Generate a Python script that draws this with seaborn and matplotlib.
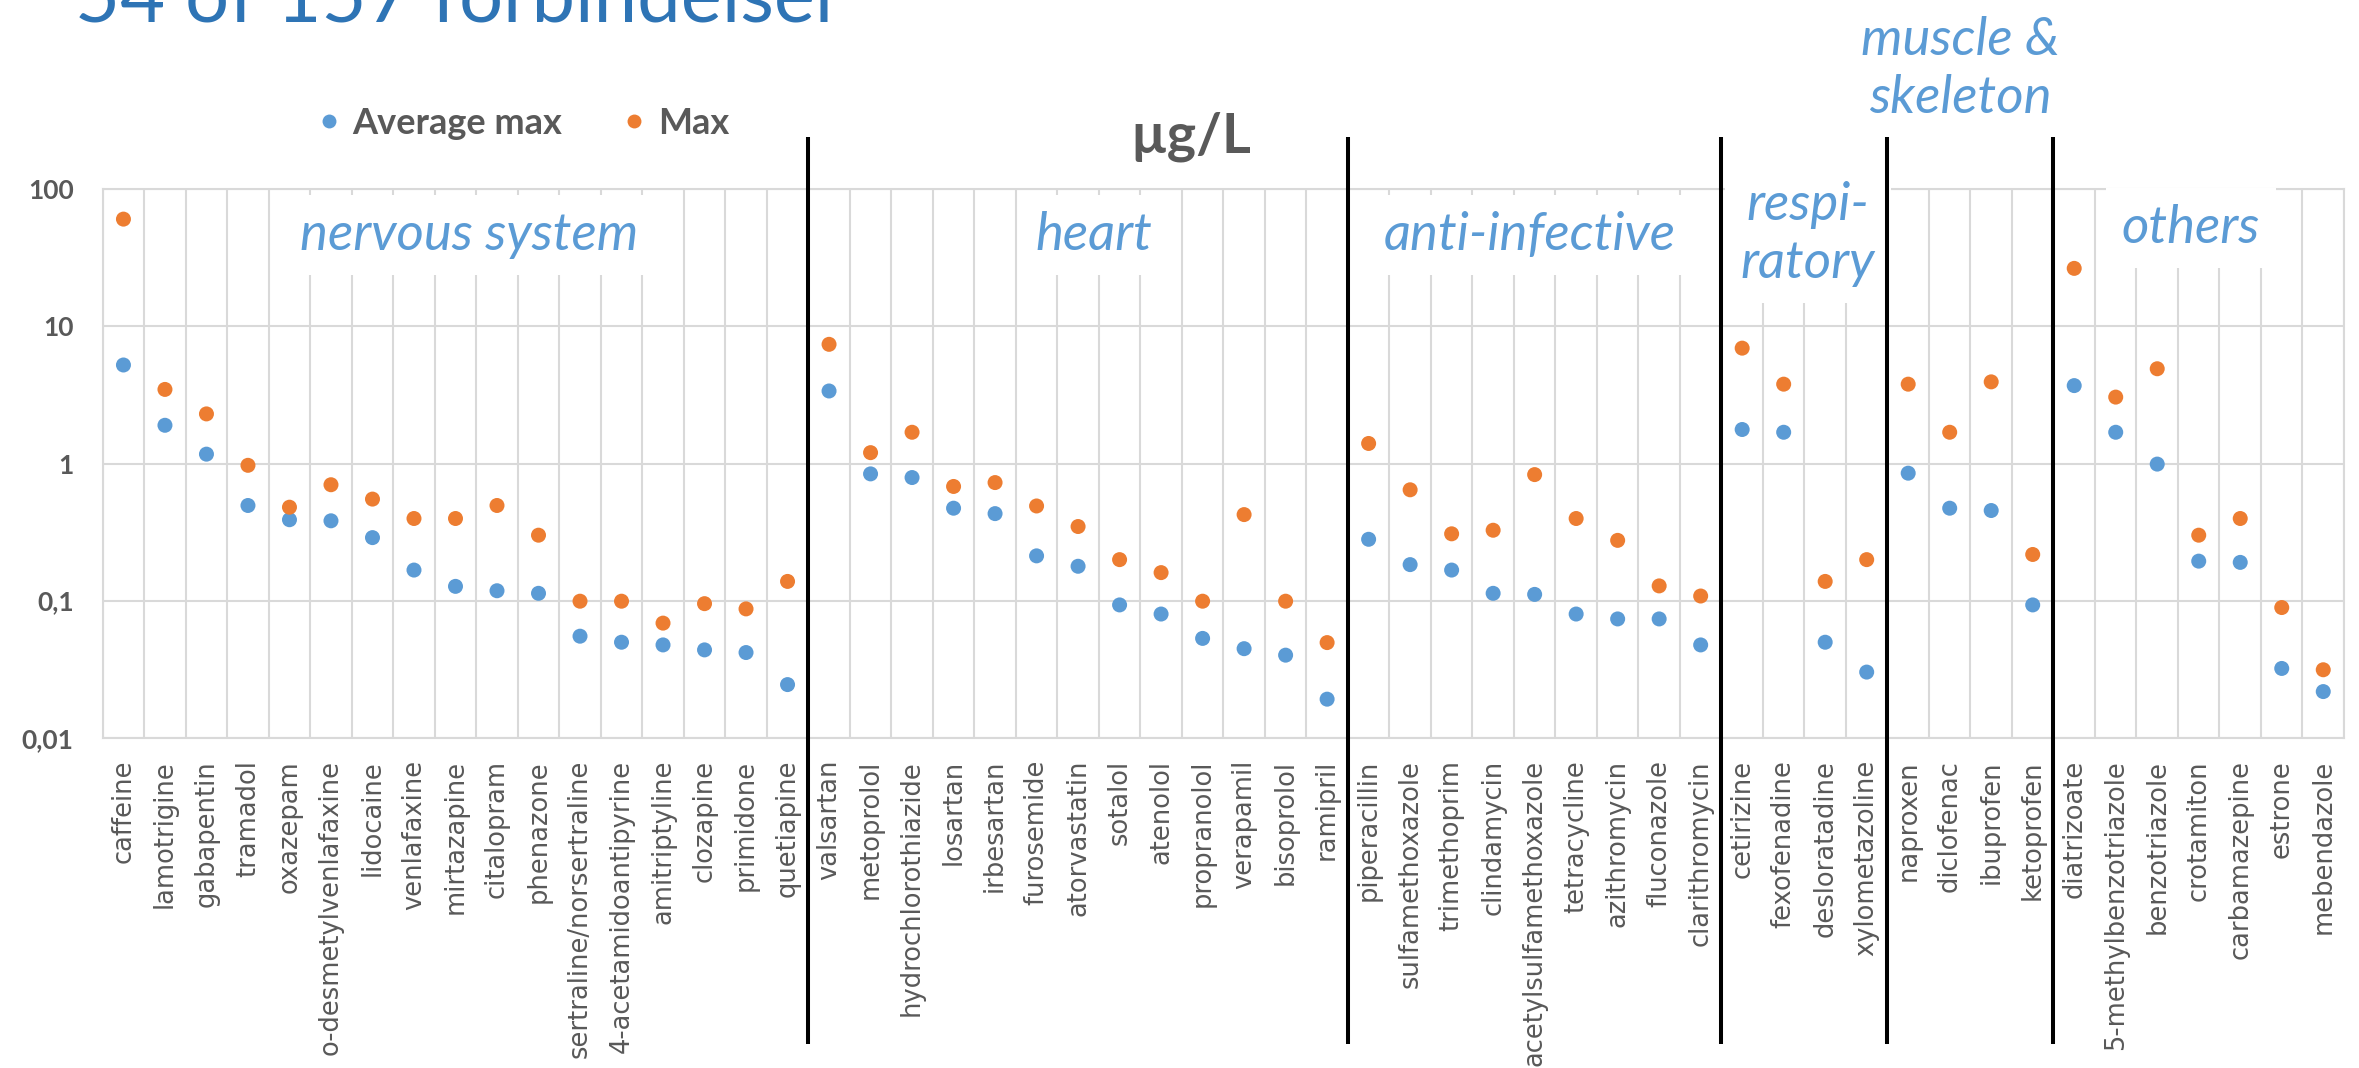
import numpy as np
import pandas as pd
import matplotlib
matplotlib.use("Agg")
import matplotlib.pyplot as plt
import seaborn as sns
from matplotlib.transforms import blended_transform_factory
from matplotlib.lines import Line2D
from matplotlib.ticker import NullLocator, FixedLocator

# ---------------- data ----------------
nervous = ["caffeine", "lamotrigine", "gabapentin", "tramadol", "oxazepam",
           "o-desmetylvenlafaxine", "lidocaine", "venlafaxine", "mirtazapine",
           "citalopram", "phenazone", "sertraline/norsertraline",
           "4-acetamidoantipyrine", "amitriptyline", "clozapine", "primidone",
           "quetiapine"]
nervous_avg = [5.23, 1.90, 1.17, 0.494, 0.389, 0.382, 0.288, 0.167, 0.127,
               0.118, 0.113, 0.055, 0.0497, 0.0475, 0.0437, 0.0418, 0.0244]
nervous_max = [60.6, 3.47, 2.30, 0.97, 0.48, 0.70, 0.55, 0.397, 0.397,
               0.494, 0.30, 0.099, 0.099, 0.0685, 0.095, 0.087, 0.138]

heart = ["valsartan", "metoprolol", "hydrochlorothiazide", "losartan",
         "irbesartan", "furosemide", "atorvastatin", "sotalol", "atenolol",
         "propranolol", "verapamil", "bisoprolol", "ramipril"]
heart_avg = [3.38, 0.84, 0.79, 0.472, 0.431, 0.212, 0.178, 0.093, 0.0798,
             0.053, 0.0446, 0.040, 0.0191]
heart_max = [7.4, 1.20, 1.69, 0.68, 0.726, 0.49, 0.347, 0.199, 0.16,
             0.099, 0.424, 0.099, 0.0494]

antiinf = ["piperacillin", "sulfamethoxazole", "trimethoprim", "clindamycin",
           "acetylsulfamethoxazole", "tetracycline", "azithromycin",
           "fluconazole", "clarithromycin"]
antiinf_avg = [0.28, 0.183, 0.167, 0.113, 0.111, 0.0798, 0.0735, 0.0735, 0.0475]
antiinf_max = [1.40, 0.643, 0.307, 0.326, 0.83, 0.397, 0.275, 0.128, 0.108]

resp = ["cetirizine", "fexofenadine", "desloratadine", "xylometazoline"]
resp_avg = [1.77, 1.69, 0.0497, 0.0301]
resp_max = [6.94, 3.79, 0.138, 0.199]

muscle = ["naproxen", "diclofenac", "ibuprofen", "ketoprofen"]
muscle_avg = [0.85, 0.472, 0.454, 0.093]
muscle_max = [3.79, 1.69, 3.94, 0.217]

others = ["diatrizoate", "5-methylbenzotriazole", "benzotriazole",
          "crotamiton", "carbamazepine", "estrone", "mebendazole"]
others_avg = [3.70, 1.69, 0.99, 0.194, 0.19, 0.032, 0.0217]
others_max = [26.5, 3.05, 4.91, 0.30, 0.397, 0.089, 0.0313]

series_names = ["Average max", "Max"]
y_ticks = [0.01, 0.1, 1, 10, 100]
y_ticklabels = ["0,01", "0,1", "1", "10", "100"]

groups = [nervous, heart, antiinf, resp, muscle, others]
drugs = sum(groups, [])
avg_all = nervous_avg + heart_avg + antiinf_avg + resp_avg + muscle_avg + others_avg
max_all = nervous_max + heart_max + antiinf_max + resp_max + muscle_max + others_max

df = pd.DataFrame({
    "drug": drugs * 2,
    "series": [series_names[0]] * len(drugs) + [series_names[1]] * len(drugs),
    "value": avg_all + max_all,
})

# ---------------- style ----------------
BLUE = "#5B9BD5"
ORANGE = "#ED7D31"
GRID = "#D9D9D9"
GRAY = "#595959"
TITLE = "#2E74B5"

W, H = 2359, 1068
fig = plt.figure(figsize=(W / 100, H / 100), dpi=100)
fig.patch.set_facecolor("white")

ax_l, ax_r, ax_t, ax_b = 102.7, 2344.0, 189.3, 737.7
ax = fig.add_axes([ax_l / W, 1 - ax_b / H, (ax_r - ax_l) / W, (ax_b - ax_t) / H])
ax.set_yscale("log")

sns.stripplot(data=df, x="drug", y="value", hue="series", order=drugs,
              hue_order=series_names, palette=[BLUE, ORANGE], jitter=False,
              dodge=False, size=10.8, linewidth=0, ax=ax, zorder=5, legend=False)

ax.set_ylim(0.01, 100)
ax.set_xlim(-0.5, len(drugs) - 0.5)
ax.yaxis.set_major_locator(FixedLocator(y_ticks))
ax.set_yticklabels(y_ticklabels)
ax.yaxis.set_minor_locator(NullLocator())
ax.xaxis.set_minor_locator(FixedLocator(np.arange(-0.5, len(drugs), 1.0)))
ax.set_xlabel("")
ax.set_ylabel("")

ax.set_axisbelow(True)
ax.grid(False)
ax.grid(which="minor", axis="x", color=GRID, lw=1.5)
ax.grid(which="major", axis="y", color=GRID, lw=1.5)
for s in ax.spines.values():
    s.set_color(GRID)
    s.set_linewidth(1.5)

ax.tick_params(which="both", length=0)
ax.tick_params(axis="y", pad=21, labelcolor=GRAY)
ax.tick_params(axis="x", pad=16, labelcolor=GRAY, labelrotation=90)
for lab in ax.get_yticklabels():
    lab.set_fontfamily("Lato")
    lab.set_fontweight("bold")
    lab.set_fontsize(19)
for lab in ax.get_xticklabels():
    lab.set_fontfamily("DejaVu Sans")
    lab.set_fontsize(18.5)
    lab.set_verticalalignment("top")

# group separators
bt = blended_transform_factory(ax.transData, fig.transFigure)
pos = -0.5
for g in groups[:-1]:
    pos += len(g)
    ax.plot([pos, pos], [1 - 1044 / H, 1 - 137 / H], color="black", lw=2.9,
            transform=bt, clip_on=False, zorder=6, solid_capstyle="butt")

# group labels
def fx(x):
    return x / W

def fy(y):
    return 1 - y / H

lab_kw = dict(color=BLUE, fontfamily="Lato", fontstyle="italic", fontsize=38,
              transform=fig.transFigure, ha="center", va="baseline", zorder=3)
box = dict(boxstyle="square,pad=0.3", fc="white", ec="none")
ax.text(fx(469), fy(250), "nervous system", bbox=box, **lab_kw)
ax.text(fx(1094), fy(250), "heart", bbox=box, **lab_kw)
ax.text(fx(1530), fy(250), "anti-infective", bbox=box, **lab_kw)
ax.text(fx(1808), fy(278), "respi-\nratory", bbox=box, linespacing=1.25,
        multialignment="center", **lab_kw)
ax.text(fx(2191), fy(243), "others", bbox=box, **lab_kw)
ax.text(fx(1960), fy(113), "muscle &\nskeleton", linespacing=1.25,
        multialignment="center", **lab_kw)

# unit
fig.text(fx(1191), fy(152), "µg/L", ha="center", va="baseline", color=GRAY,
         fontfamily="Lato", fontweight="bold", fontsize=40)

# title (partly cut at the top edge, as in the source slide)
fig.text(fx(75), fy(21), "54 of 157 forbindelser", ha="left", va="baseline",
         color=TITLE, fontfamily="Lato", fontweight="normal", fontsize=56)

# legend
handles = [Line2D([], [], ls="", marker="o", markersize=10, color=c,
                  markeredgewidth=0) for c in (BLUE, ORANGE)]
leg = ax.legend(handles, series_names, loc="center left",
                bbox_to_anchor=(fx(318), fy(123)), bbox_transform=fig.transFigure,
                ncol=2, frameon=False, handlelength=0.6, handletextpad=0.35,
                columnspacing=1.7, borderpad=0, borderaxespad=0,
                prop=dict(family="Lato", weight="bold", size=26),
                labelcolor=GRAY)

fig.savefig("out.png", dpi=100)
